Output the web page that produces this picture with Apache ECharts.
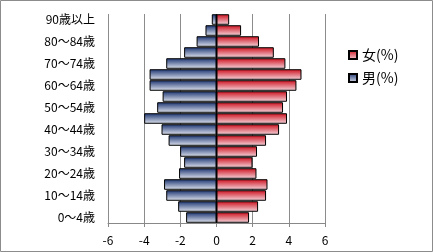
<!DOCTYPE html>
<html><head><meta charset="utf-8">
<script src="https://cdn.jsdelivr.net/npm/echarts@6/dist/echarts.min.js"></script>
<style>html,body{margin:0;padding:0;background:#fff}#c{width:433px;height:252px}</style>
</head><body><div id="c"></div>
<script>
var categories = ['0～4歳','5～9歳','10～14歳','15～19歳','20～24歳','25～29歳','30～34歳','35～39歳','40～44歳','45～49歳','50～54歳','55～59歳','60～64歳','65～69歳','70～74歳','75～79歳','80～84歳','85～89歳','90歳以上'];
var male = [-1.68,-2.12,-2.78,-2.9,-2.07,-1.79,-2.01,-2.65,-3.04,-4.0,-3.28,-2.98,-3.7,-3.7,-2.78,-1.79,-1.1,-0.61,-0.26];
var female = [1.8,2.3,2.74,2.82,2.21,1.99,2.24,2.74,3.46,3.9,3.68,3.9,4.42,4.7,3.81,3.17,2.35,1.36,0.7];
var xTicks = [-6,-4,-2,0,2,4,6];

var chart = echarts.init(document.getElementById('c'));
var font = '"Noto Sans CJK JP", sans-serif';
function grad(top, bottom){
  return new echarts.graphic.LinearGradient(0,0,0,1,[{offset:0,color:top},{offset:1,color:bottom}]);
}
chart.setOption({
  animation:false,
  textStyle:{fontFamily:font},
  graphic:[{type:'rect',shape:{x:0.5,y:0.5,width:432,height:251},style:{fill:'none',stroke:'#8c8c8c',lineWidth:1},silent:true}],
  legend:{
    data:['女(%)','男(%)'], orient:'vertical', left:343, top:43, itemGap:9,
    itemWidth:8, itemHeight:8, icon:'rect',
    textStyle:{fontFamily:font,fontSize:14,color:'#000'}
  },
  grid:{left:108,right:108,top:14,bottom:29},
  xAxis:{
    type:'value', min:xTicks[0], max:xTicks[xTicks.length-1], interval:2,
    axisLine:{show:true,lineStyle:{color:'#888'}},
    axisTick:{show:true,length:4,lineStyle:{color:'#888'}},
    axisLabel:{fontFamily:font,fontSize:12,color:'#000',margin:11},
    splitLine:{show:true,lineStyle:{color:'#8c8c8c'}}
  },
  yAxis:{
    type:'category', data:categories,
    axisLine:{show:false}, axisTick:{show:false},
    axisLabel:{interval:1,fontFamily:font,fontSize:12,color:'#000',margin:13}
  },
  series:[
    {name:'男(%)',type:'bar',data:male,barGap:'-100%',barCategoryGap:'4%',
     itemStyle:{color:grad('#1a3470','#e2e5f0'),borderColor:'#000',borderWidth:1},
     markLine:{silent:true,symbol:'none',label:{show:false},lineStyle:{color:'#000',type:'solid',width:1},data:[{xAxis:0}]}},
    {name:'女(%)',type:'bar',data:female,barGap:'-100%',barCategoryGap:'4%',
     itemStyle:{color:grad('#cc0e1c','#f5d8de'),borderColor:'#000',borderWidth:1}}
  ]
});
</script></body></html>
